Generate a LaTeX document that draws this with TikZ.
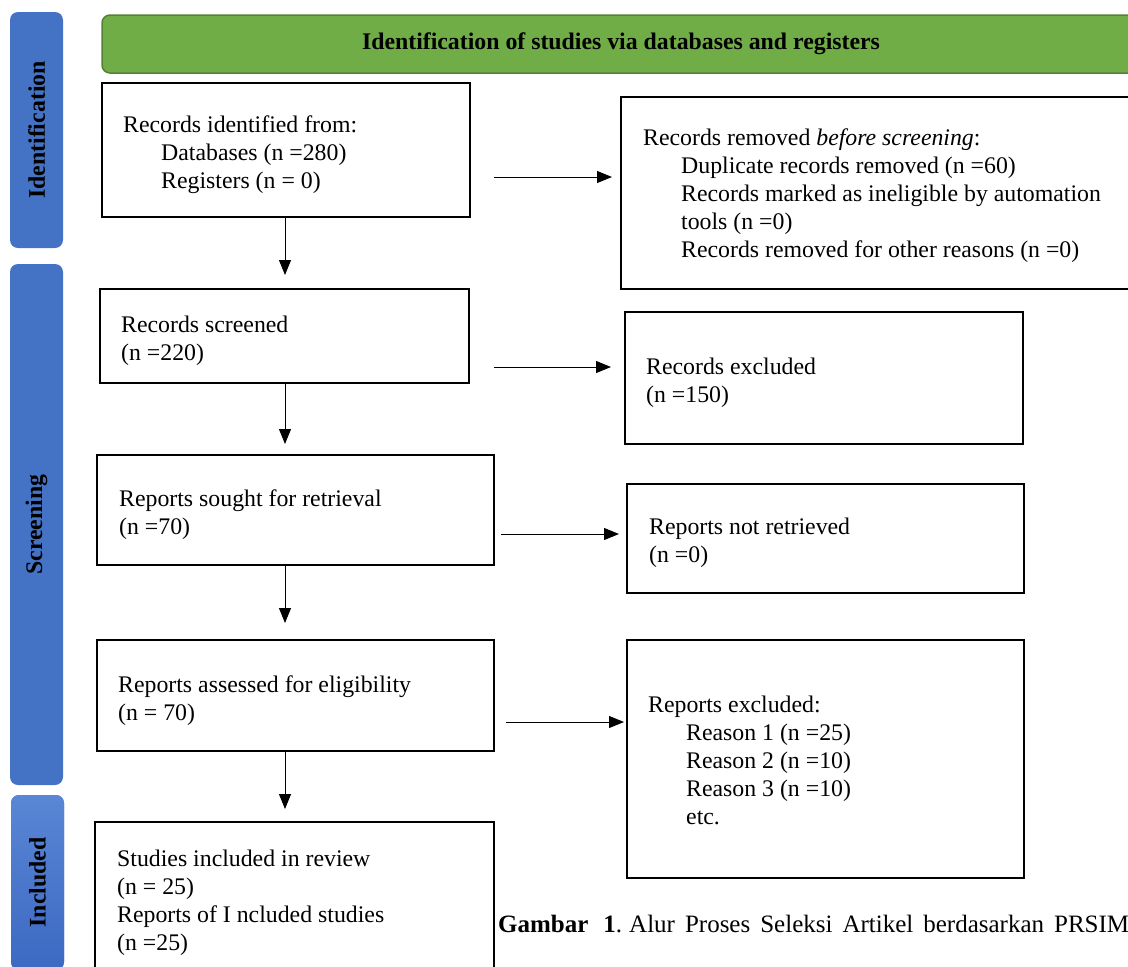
\documentclass[tikz,border=0pt]{standalone}
\usepackage{fontspec}
\setmainfont{Liberation Serif}
\usetikzlibrary{arrows.meta}
\definecolor{sideblue}{HTML}{4472C4}
\definecolor{sideblueL}{HTML}{5A86D5}
\definecolor{sideblueD}{HTML}{3C69C2}
\definecolor{hdrgreen}{HTML}{70AD47}
\definecolor{hdrborder}{HTML}{548235}
\begin{document}
\begin{tikzpicture}[x=1pt,y=-1pt,
  box/.style={draw=black,line width=2pt,inner sep=0pt,fill=white},
  txt/.style={anchor=base west,align=left,inner sep=0pt,font=\fontsize{23.8}{27.8}\selectfont},
  arr/.style={-{Triangle[length=15pt,width=12pt]},line width=1pt},
  side/.style={fill=sideblue,rounded corners=8pt,draw=none,rotate=90,inner sep=0pt,
    minimum height=53pt,font=\fontsize{23.8}{25}\selectfont\bfseries},
  hdr/.style={fill=hdrgreen,draw=hdrborder,line width=1.5pt,rounded corners=8pt,inner sep=0pt,
    font=\fontsize{23.8}{25}\selectfont\bfseries}]
\useasboundingbox (0,0) rectangle (1128,967);
\clip (0,0) rectangle (1128,967);

% side bars
\node[side,minimum width=236pt] (s1) at (36.5,130) {Identification};
\node[side,minimum width=521pt] (s2) at (36.5,524.5) {Screening};
\node[side,minimum width=175pt,top color=sideblueL,bottom color=sideblueD] (s3) at (37.5,882.5) {Included};

% header
\node[hdr,minimum width=1038pt,minimum height=58pt] (hd) at (621,44) {Identification of studies via databases and registers};

% boxes
\node[box,minimum width=368pt,minimum height=134pt] (b1) at (286,150) {};
\node[box,minimum width=519pt,minimum height=192pt] (b2) at (880.5,193) {};
\node[box,minimum width=369pt,minimum height=94pt] (b3) at (284.5,336) {};
\node[box,minimum width=398pt,minimum height=132pt] (b4) at (824,378) {};
\node[box,minimum width=397pt,minimum height=110pt] (b5) at (295.5,510) {};
\node[box,minimum width=397pt,minimum height=109pt] (b6) at (825.5,538.5) {};
\node[box,minimum width=397pt,minimum height=111pt] (b7) at (295.5,695.5) {};
\node[box,minimum width=397pt,minimum height=238pt] (b8) at (825.5,759) {};
\node[box,minimum width=399pt,minimum height=158pt] (b9) at (294.5,901) {};

% texts (anchored at the baseline of their last line)
\node[txt] (t1) at (123,188) {Records identified from:\\\hspace*{38pt}Databases (n =280)\\\hspace*{38pt}Registers (n = 0)};
\node[txt] (t2) at (643,257) {Records removed \textit{before screening}:\\\hspace*{38pt}Duplicate records removed (n =60)\\\hspace*{38pt}Records marked as ineligible by automation\\\hspace*{38pt}tools (n =0)\\\hspace*{38pt}Records removed for other reasons (n =0)};
\node[txt] (t3) at (121,360) {Records screened\\(n =220)};
\node[txt] (t4) at (646,402) {Records excluded\\(n =150)};
\node[txt] (t5) at (119,534) {Reports sought for retrieval\\(n =70)};
\node[txt] (t6) at (649,562) {Reports not retrieved\\(n =0)};
\node[txt] (t7) at (118,720) {Reports assessed for eligibility\\(n = 70)};
\node[txt] (t8) at (648,824) {Reports excluded:\\\hspace*{38pt}Reason 1 (n =25)\\\hspace*{38pt}Reason 2 (n =10)\\\hspace*{38pt}Reason 3 (n =10)\\\hspace*{38pt}etc.};
\node[txt] (t9) at (117,950) {Studies included in review\\(n = 25)\\Reports of I ncluded studies\\(n =25)};
\node[txt,font=\fontsize{25}{28}\selectfont] (cap) at (498,932) {\spaceskip=10pt\relax\textbf{Gambar\hspace{15pt}1}.\hspace{7pt}Alur Proses Seleksi Artikel berdasarkan PRSIMA};

% arrow coordinates
\coordinate (a1s) at (494,177); \coordinate (a1e) at (612,177);
\coordinate (a3s) at (494,367); \coordinate (a3e) at (611,367);
\coordinate (a5s) at (501,534); \coordinate (a5e) at (619,534);
\coordinate (a7s) at (506,722); \coordinate (a7e) at (624,722);
\coordinate (d1e) at (285,275);
\coordinate (d2e) at (285,444);
\coordinate (d3e) at (285,623);
\coordinate (d4e) at (285,809);

\draw[arr] (a1s) -- (a1e);
\draw[arr] (a3s) -- (a3e);
\draw[arr] (a5s) -- (a5e);
\draw[arr] (a7s) -- (a7e);
\draw[arr] (b1.south -| d1e) -- (d1e);
\draw[arr] (b3.south -| d2e) -- (d2e);
\draw[arr] (b5.south -| d3e) -- (d3e);
\draw[arr] (b7.south -| d4e) -- (d4e);
\end{tikzpicture}
\end{document}
